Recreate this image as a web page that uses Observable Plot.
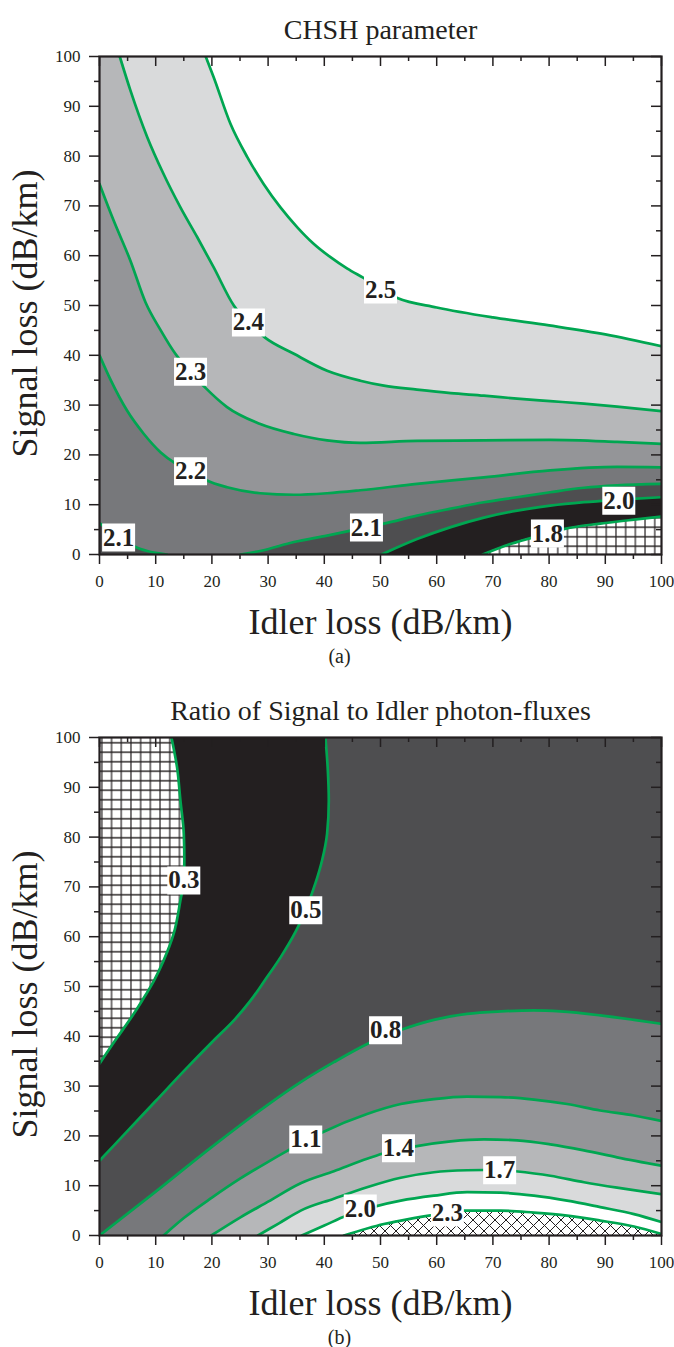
<!DOCTYPE html>
<html>
<head>
<meta charset="utf-8">
<script src="https://cdn.jsdelivr.net/npm/d3@7"></script>
<script src="https://cdn.jsdelivr.net/npm/@observablehq/plot@0.6"></script>
<style>
html, body { margin: 0; padding: 0; background: #fff; }
#chart svg { display: block; }
</style>
</head>
<body>
<div id="chart"></div>
<script>
// ---------------- data ----------------
const majorTicks = [0, 10, 20, 30, 40, 50, 60, 70, 80, 90, 100];
const minorTicks = [5, 15, 25, 35, 45, 55, 65, 75, 85, 95];

// Panel (a): CHSH parameter contour lines, [idler loss, signal loss]
const chshLevels = ["2.5", "2.4", "2.3", "2.2", "2.1", "2.0", "1.8"];
const chsh25 = [[18.9,100],[20.3,95.9],[23.3,86.5],[26.3,79.8],[29.2,74.4],[32.2,69.7],[35.2,65.7],[38.1,62.4],[41.1,59.7],[44.1,57.4],[46.9,55.6],[53,51.5],[60,49.6],[70,47.6],[80,46],[90,44.2],[100,41.8]];
const chsh24 = [[3.6,100],[5.5,93.2],[8.5,83.8],[11.4,76.4],[14.4,69.7],[17.4,63.7],[20.3,57.7],[23.9,50.0],[26.5,46.6],[29.4,43.6],[34.6,40.3],[40.5,36.9],[46.4,34.9],[50.6,33.9],[56.5,33.1],[62.5,32.4],[68.4,31.9],[74.3,31.3],[80.2,30.8],[86.2,30.3],[92.1,29.7],[100,28.8]];
const chsh23 = [[0,74.4],[2.5,67.1],[5.5,59.0],[8.2,50.6],[10.9,45.0],[13.5,40.3],[16.2,36.7],[19.0,33.3],[22.7,29.6],[28.6,26.2],[34.6,24.2],[40.5,22.9],[46.4,22.4],[56.5,22.8],[68.4,22.9],[80.2,23.0],[92.1,22.6],[100,22.2]];
const chsh22 = [[0,40.0],[2.0,35.0],[4.9,28.9],[7.9,24.2],[10.9,20.5],[13.5,18.3],[16.2,16.7],[19.0,14.9],[22.7,13.5],[28.6,12.3],[34.6,12.0],[40.5,12.3],[46.4,12.9],[56.5,14.2],[68.4,15.5],[80.2,16.9],[92.1,17.6],[100,17.5]];
const chsh21left = [[0,6.3],[3.4,3.6],[6.2,1.6],[8.5,0.7],[12.0,0]];
const chsh21right = [[25.1,0],[28.6,0.7],[34.6,2.5],[40.5,3.8],[44.7,4.8],[47.5,5.5],[50.6,6.2],[56.5,7.8],[62.5,9.2],[68.4,10.5],[74.3,11.5],[80.2,12.5],[86.2,13.4],[92.1,13.9],[100,14.2]];
const chsh20 = [[50.2,0],[56.5,3.1],[62.5,5.5],[68.4,7.4],[74.3,8.8],[80.2,9.8],[86.2,10.5],[92.4,11.0],[100,11.5]];
const chsh18 = [[68.2,0],[73.1,2.1],[79.7,4.2],[82.6,5.1],[89.1,6.2],[95.1,7.0],[100,7.6]];
const chshLabels = [
  {x: 50.0, y: 53.2, t: "2.5"}, {x: 26.5, y: 46.6, t: "2.4"}, {x: 16.2, y: 36.7, t: "2.3"},
  {x: 16.2, y: 16.7, t: "2.2"}, {x: 3.4, y: 3.4, t: "2.1"}, {x: 47.5, y: 5.4, t: "2.1"},
  {x: 92.4, y: 10.8, t: "2.0"}, {x: 79.7, y: 4.2, t: "1.8"}
];

// Panel (b): ratio of signal to idler photon-fluxes
const ratio03 = [[0,34.5],[3,39.5],[5.5,43.5],[7.6,47.2],[9.7,51.2],[11.4,55.2],[13.2,60.6],[14.4,67.3],[15.0,71.3],[15.1,75.3],[15.0,80.7],[14.4,87.3],[13.8,94.0],[12.8,100]];
const ratio05 = [[0,15],[5,21],[10,27],[15,33],[20,38.8],[24,43.3],[26.9,47.2],[29.4,51.2],[32.3,56],[34.9,61],[36.9,66],[38.5,71],[39.6,75.3],[40.5,80.7],[40.8,87.3],[40.6,94.0],[40.2,100]];
const ratio08 = [[0,0],[10,8.8],[20,17.8],[30,26.3],[35.8,30.8],[41.7,34.8],[47.9,38.6],[53.7,41.3],[59.5,43.3],[65.4,44.5],[71.4,45.0],[77.3,45.2],[82.0,45.0],[89.1,44.2],[95.1,43.3],[100,42.5]];
const ratio11 = [[11.4,0],[15,3.5],[20,7.6],[25,11.4],[30,14.8],[35,18.0],[39.6,20.7],[47.6,24.4],[53.6,26.4],[59.5,27.4],[65.4,27.9],[71.4,27.8],[77.3,27.3],[83.2,26.4],[89.1,25.1],[95.1,24.1],[100,23.0]];
const ratio14 = [[19.9,0],[25,3.6],[30,6.8],[35.8,10.5],[41.7,12.9],[47.6,15.4],[50.3,16.4],[56.2,17.9],[62.5,18.9],[68.4,19.3],[74.3,19.1],[80.2,18.3],[86.2,17.1],[92.1,15.7],[100,14.0]];
const ratio17 = [[28.2,0],[32,2.5],[35.8,5.0],[41.7,7.4],[47.6,9.7],[53.6,11.6],[59.5,12.7],[65.4,13.1],[71.2,13.2],[74.0,12.9],[80.2,12.0],[86.2,10.7],[92.1,9.6],[100,8.3]];
const ratio20 = [[36,0],[40,2],[44,4],[49.3,5.9],[53.6,7.0],[59.5,8.0],[65.4,8.7],[71.4,8.6],[77.3,8.0],[83.2,7.0],[89.1,5.7],[95.1,4.3],[100,2.7]];
const ratio23 = [[43.5,0],[50.6,2.3],[55,3.3],[59.2,4.1],[64.8,5.0],[71.4,5.0],[77.3,4.6],[83.2,4.0],[89.1,3.0],[95.1,1.8],[100,0.3]];
const ratioLabels = [
  {x: 15.0, y: 71.3, t: "0.3"}, {x: 36.7, y: 65.3, t: "0.5"}, {x: 50.9, y: 41.2, t: "0.8"},
  {x: 36.7, y: 19.3, t: "1.1"}, {x: 53.2, y: 17.5, t: "1.4"}, {x: 71.2, y: 13.1, t: "1.7"},
  {x: 46.4, y: 5.4, t: "2.0"}, {x: 61.9, y: 4.6, t: "2.3"}
];

const titles = ["CHSH parameter", "Ratio of Signal to Idler photon-fluxes"];
const xLabel = "Idler loss (dB/km)";
const yLabel = "Signal loss (dB/km)";
const panelTags = ["(a)", "(b)"];

// ---------------- styling ----------------
const W = 674, ML = 99, MR = 13, MT = 56, PH = 498, PW = W - ML - MR;
const ink = "#231f20";
const green = "#00a651";
const grays = ["#d9dadb", "#b6b7b9", "#949598", "#77787b", "#4e4e50", "#231f20"];
const serif = "'Liberation Serif', 'Times New Roman', Times, serif";

const X = d => d[0], Y = d => d[1];
const fillY = (data, fill) => Plot.areaY(data, {x: X, y1: 0, y2: Y, fill, curve: "monotone-x", clip: true});
const fillX = (data, fill) => Plot.areaX(data, {y: Y, x1: 0, x2: X, fill, curve: "monotone-y", clip: true});
const lineY = data => Plot.line(data, {x: X, y: Y, stroke: green, strokeWidth: 2.7, curve: "monotone-x", clip: true});
const lineX = data => Plot.line(data, {x: X, y: Y, stroke: green, strokeWidth: 2.7, curve: "monotone-y", clip: true});

const boxSymbol = {draw(ctx) { ctx.rect(-16.5, -14, 33, 28); }};
const labelMarks = labels => [
  Plot.dot(labels, {x: "x", y: "y", symbol: boxSymbol, fill: "white", stroke: "none"}),
  Plot.text(labels, {x: "x", y: "y", text: "t", fontSize: 25, fontWeight: "bold", fill: ink, lineAnchor: "middle"})
];

function decorations(i) {
  return [
    Plot.axisX({ticks: majorTicks, tickSize: 10, tickPadding: 10, stroke: ink, strokeWidth: 1.5, fill: ink, fontSize: 17, label: null}),
    Plot.axisX({ticks: minorTicks, tickSize: 5, stroke: ink, strokeWidth: 1.5, fill: "none", label: null}),
    Plot.axisY({ticks: majorTicks, tickSize: 10, tickPadding: 9, stroke: ink, strokeWidth: 1.5, fill: ink, fontSize: 17, label: null}),
    Plot.axisY({ticks: minorTicks, tickSize: 5, stroke: ink, strokeWidth: 1.5, fill: "none", label: null}),
    Plot.tickX(majorTicks, {x: d => d, insetBottom: PH - 10, stroke: ink, strokeWidth: 1.5}),
    Plot.tickX(minorTicks, {x: d => d, insetBottom: PH - 5, stroke: ink, strokeWidth: 1.5}),
    Plot.tickY(majorTicks, {y: d => d, insetLeft: PW - 10, stroke: ink, strokeWidth: 1.5}),
    Plot.tickY(minorTicks, {y: d => d, insetLeft: PW - 5, stroke: ink, strokeWidth: 1.5}),
    Plot.frame({stroke: ink, strokeWidth: 2.2, fill: "none"}),
    Plot.text([titles[i]], {text: d => d, frameAnchor: "top", dy: -18, lineAnchor: "bottom", fontSize: 28, fill: ink}),
    Plot.text([xLabel], {text: d => d, frameAnchor: "bottom", dy: 79, lineAnchor: "bottom", fontSize: 36, fill: ink}),
    Plot.text([panelTags[i]], {text: d => d, frameAnchor: "bottom", dx: -41, dy: 108, lineAnchor: "bottom", fontSize: 20, fill: ink}),
    Plot.text([yLabel], {text: d => d, frameAnchor: "left", dx: -63, dy: 8, rotate: -90, textAnchor: "middle", lineAnchor: "bottom", fontSize: 36, fill: ink})
  ];
}

const common = {
  width: W, marginLeft: ML, marginRight: MR, marginTop: MT,
  x: {domain: [0, 100]}, y: {domain: [0, 100]},
  style: {fontFamily: serif, fontSize: "17px", color: ink, background: "white", overflow: "visible"}
};

// ---------------- panel (a) ----------------
const top25 = [[0, 100], ...chsh25];
const top24 = [[0, 100], ...chsh24];
const chsh21 = [...chsh21left, ...chsh21right];
const svgA = Plot.plot({
  ...common, height: MT + PH + 127, marginBottom: 127,
  marks: [
    fillY(top25, grays[0]),
    fillY(top24, grays[1]),
    fillY(chsh23, grays[2]),
    fillY(chsh22, grays[3]),
    fillY(chsh21, grays[4]),
    fillY(chsh20, grays[5]),
    fillY(chsh18, "url(#gridA)"),
    lineY(chsh25), lineY(chsh24), lineY(chsh23), lineY(chsh22),
    lineY(chsh21left), lineY(chsh21right), lineY(chsh20), lineY(chsh18),
    ...labelMarks(chshLabels),
    ...decorations(0)
  ]
});

// ---------------- panel (b) ----------------
const svgB = Plot.plot({
  ...common, height: MT + PH + 112, marginBottom: 112,
  marks: [
    Plot.frame({fill: grays[4], stroke: "none"}),
    fillX(ratio05, grays[5]),
    fillX(ratio03, "url(#gridB)"),
    fillY(ratio08, grays[3]),
    fillY(ratio11, grays[2]),
    fillY(ratio14, grays[1]),
    fillY(ratio17, grays[0]),
    fillY(ratio20, "white"),
    fillY(ratio23, "url(#crossB)"),
    lineX(ratio03), lineX(ratio05),
    lineY(ratio08), lineY(ratio11), lineY(ratio14), lineY(ratio17), lineY(ratio20), lineY(ratio23),
    ...labelMarks(ratioLabels),
    ...decorations(1)
  ]
});

const gridPattern = id => `<pattern id="${id}" patternUnits="userSpaceOnUse" width="9.7" height="9.5">
  <rect width="9.7" height="9.5" fill="white"/>
  <path d="M4.85,0V9.5M0,4.75H9.7" stroke="${ink}" stroke-width="1.2" fill="none"/></pattern>`;
const crossPattern = id => `<pattern id="${id}" patternUnits="userSpaceOnUse" width="11" height="11">
  <rect width="11" height="11" fill="white"/>
  <path d="M-1,-1L12,12M12,-1L-1,12" stroke="${ink}" stroke-width="1" fill="none"/></pattern>`;
svgA.insertAdjacentHTML("afterbegin", `<defs>${gridPattern("gridA")}</defs>`);
svgB.insertAdjacentHTML("afterbegin", `<defs>${gridPattern("gridB")}${crossPattern("crossB")}</defs>`);

const chart = document.getElementById("chart");
chart.appendChild(svgA);
chart.appendChild(svgB);
</script>
</body>
</html>
